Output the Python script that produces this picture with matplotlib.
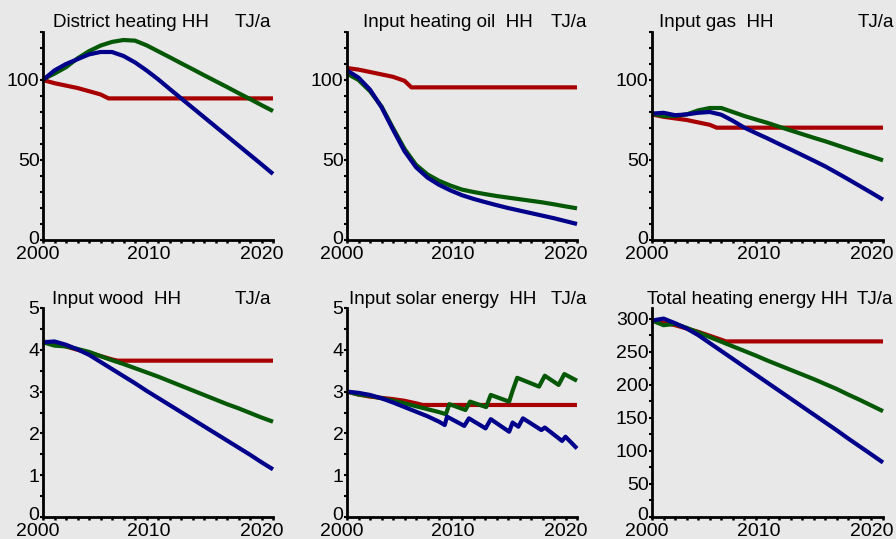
import matplotlib
matplotlib.use("Agg")
import matplotlib.pyplot as plt
import matplotlib.transforms as mtransforms
import numpy as np

# ─── data ───────────────────────────────────────────────────────────────────
YEARS = list(range(2000, 2021))

# District heating HH
DH_RED_X = [2000, 2001, 2002, 2003, 2004, 2005, 2005.7, 2020]
DH_RED   = [100, 98, 96.5, 95, 93, 91, 88.5, 88.5]
DH_GREEN = [100.5, 104, 108, 113.5, 118, 121.5, 123.8, 125, 124.6, 121.7, 118,
            114.3, 110.5, 106.8, 103, 99.3, 95.6, 91.8, 88.1, 84.3, 80.6]
DH_BLUE  = [100, 106, 110, 113, 116, 117.5, 117.5, 115, 111, 106, 100.5,
            94.5, 88.6, 82.7, 76.8, 70.9, 65, 59.1, 53.2, 47.3, 41.3]

# Input heating oil HH
HO_RED_X = [2000, 2001, 2002, 2003, 2004, 2005, 2005.6, 2020]
HO_RED   = [107.5, 106.5, 105, 103.5, 102, 99.5, 95.4, 95.4]
HO_GREEN = [104, 100, 93, 83.5, 70, 57, 47, 41, 37, 34, 31.5,
            30, 28.7, 27.5, 26.5, 25.5, 24.5, 23.5, 22.3, 21, 19.8]
HO_BLUE  = [106, 101.5, 94, 83, 69, 55.5, 45.5, 39, 34.5, 31, 28,
            25.7, 23.7, 21.8, 20, 18.4, 16.8, 15.2, 13.6, 11.8, 10]

# Input gas HH
GAS_RED_X = [2000, 2001, 2002, 2003, 2004, 2005, 2005.6, 2020]
GAS_RED   = [78.5, 77, 76, 75, 73.5, 72, 70.2, 70.2]
GAS_GREEN = [79, 77.5, 77.5, 78.5, 81, 82.5, 82.5, 80, 77.5, 75.3, 73.2,
             70.8, 68.5, 66.2, 63.9, 61.7, 59.3, 56.9, 54.5, 52.2, 49.8]
GAS_BLUE  = [79, 79.5, 78, 78.5, 79.5, 80, 78.3, 74.5, 70.2, 66.8, 63.5,
             60, 56.6, 53.1, 49.6, 46, 42, 37.9, 33.7, 29.5, 25.2]

# Input wood HH
WOOD_RED_X = [2000, 2001, 2002, 2003, 2004, 2005, 2006, 2006.5, 2020]
WOOD_RED   = [4.2, 4.15, 4.08, 4.0, 3.93, 3.85, 3.77, 3.74, 3.74]
WOOD_GREEN = [4.18, 4.1, 4.08, 4.02, 3.95, 3.85, 3.75, 3.66, 3.56, 3.46, 3.36,
              3.25, 3.14, 3.03, 2.92, 2.81, 2.7, 2.6, 2.49, 2.38, 2.28]
WOOD_BLUE  = [4.18, 4.2, 4.12, 4.01, 3.88, 3.71, 3.54, 3.37, 3.2, 3.02, 2.85,
              2.68, 2.51, 2.34, 2.17, 2.0, 1.83, 1.66, 1.49, 1.31, 1.14]

# Input solar energy HH (saw-tooth series keep their own time points)
SOL_RED_X   = [2000, 2001, 2002, 2003, 2004, 2005, 2006, 2006.6, 2020]
SOL_RED     = [3.0, 2.93, 2.88, 2.85, 2.82, 2.78, 2.72, 2.68, 2.68]
SOL_GREEN_X = [2000, 2001, 2002, 2003, 2004, 2005, 2006, 2007, 2008, 2008.6,
               2008.9, 2010.3, 2010.7, 2012.1, 2012.5, 2014.1, 2014.4, 2014.8,
               2016.7, 2017.2, 2018.4, 2018.9, 2020]
SOL_GREEN   = [3.0, 2.93, 2.9, 2.84, 2.78, 2.72, 2.65, 2.58, 2.51, 2.46,
               2.7, 2.56, 2.76, 2.63, 2.92, 2.76, 3.02, 3.33,
               3.12, 3.38, 3.16, 3.42, 3.26]
SOL_BLUE_X  = [2000, 2001, 2002, 2003, 2004, 2005, 2006, 2007, 2008, 2008.5,
               2008.7, 2010.2, 2010.6, 2012.05, 2012.5, 2014.1, 2014.4, 2014.9,
               2015.3, 2016.9, 2017.2, 2018.7, 2019.0, 2020]
SOL_BLUE    = [3.0, 2.97, 2.92, 2.84, 2.74, 2.63, 2.52, 2.41, 2.28, 2.2,
               2.4, 2.18, 2.36, 2.12, 2.34, 2.04, 2.26, 2.16,
               2.36, 2.08, 2.14, 1.82, 1.92, 1.64]

# Total heating energy HH
TOT_RED_X = [2000, 2001, 2002, 2003, 2004, 2005, 2006, 2006.4, 2020]
TOT_RED   = [298, 294, 290, 285, 280, 274, 268, 265.5, 265.5]
TOT_GREEN = [297, 290, 292, 286, 279, 272, 265, 258, 251, 244, 236.5,
             229.5, 222.5, 215.5, 208.5, 201, 193.5, 185, 177, 168.5, 160]
TOT_BLUE  = [297, 300, 293, 285, 275, 263, 251, 239, 227, 215, 203,
             191, 179, 167, 155, 143, 131, 118.5, 106.5, 94.5, 82.4]

TITLES = ["District heating HH", "Input heating oil  HH", "Input gas  HH",
          "Input wood  HH", "Input solar energy  HH", "Total heating energy HH"]
UNITS  = "TJ/a"

# ─── style / layout ─────────────────────────────────────────────────────────
W, H   = 896, 539
BG     = "#e8e8e8"
RED    = "#a80000"
GREEN  = "#055805"
BLUE   = "#00008a"
LW     = 3.0
FONT   = "Liberation Sans"

# axes boxes in pixels: (left, top, right, bottom)
BOXES = [(43, 32, 273, 240), (347, 32, 577, 240), (652, 32, 883, 240),
         (43, 308, 273, 517), (347, 308, 577, 517), (652, 308, 883, 517)]
# title left offset / units right offset from axes edges (pixels)
TITLE_DX = [10, 16, 7, 9, 2, -5]
UNITS_DX = [-2, 10, 11, -2, 10, 10]
# (ymax, label step, tick step)
YSCALES = [(130, 50, 10), (130, 50, 10), (130, 50, 10),
           (5, 1, 0.5), (5, 1, 0.5), (316, 50, 25)]
XLABEL_DX = [-5, -9, -11]

plt.rcParams["font.family"] = [FONT, "DejaVu Sans"]

fig = plt.figure(figsize=(W / 100, H / 100), dpi=100, facecolor=BG)

series = [
    ((DH_RED_X, DH_RED), (YEARS, DH_GREEN), (YEARS, DH_BLUE)),
    ((HO_RED_X, HO_RED), (YEARS, HO_GREEN), (YEARS, HO_BLUE)),
    ((GAS_RED_X, GAS_RED), (YEARS, GAS_GREEN), (YEARS, GAS_BLUE)),
    ((WOOD_RED_X, WOOD_RED), (YEARS, WOOD_GREEN), (YEARS, WOOD_BLUE)),
    ((SOL_RED_X, SOL_RED), (SOL_GREEN_X, SOL_GREEN), (SOL_BLUE_X, SOL_BLUE)),
    ((TOT_RED_X, TOT_RED), (YEARS, TOT_GREEN), (YEARS, TOT_BLUE)),
]

def shift(dx, dy):
    return mtransforms.ScaledTranslation(dx / 100, dy / 100, fig.dpi_scale_trans)

for i, (box, (red, green, blue)) in enumerate(zip(BOXES, series)):
    l, t, r, b = box
    ax = fig.add_axes([l / W, 1 - b / H, (r - l) / W, (b - t) / H])
    ax.set_facecolor(BG)

    for (xs, ys), c in zip((red, green, blue), (RED, GREEN, BLUE)):
        ax.plot(xs, ys, color=c, lw=LW, solid_capstyle="butt", clip_on=False)

    ymax, lstep, tstep = YSCALES[i]
    ax.set_xlim(2000, 2020)
    ax.set_ylim(0, ymax)

    ax.set_xticks([2000, 2010, 2020])
    ax.set_xticks(range(2000, 2021), minor=True)
    ax.set_yticks(np.arange(0, ymax + 0.01, lstep))
    ax.set_yticks(np.arange(0, ymax + 0.01, tstep), minor=True)
    ax.set_yticklabels([f"{v:g}" for v in np.arange(0, ymax + 0.01, lstep)])

    for s in ("top", "right"):
        ax.spines[s].set_visible(False)
    for s in ("left", "bottom"):
        ax.spines[s].set_linewidth(2.0)
        ax.spines[s].set_color("black")

    ax.tick_params(axis="y", which="both", direction="out", length=2.5,
                   width=1.5, pad=0, labelsize=14)
    ax.tick_params(axis="x", which="both", direction="out", length=1.8,
                   width=1.8, pad=2.0, labelsize=14)

    for lab, dx in zip(ax.get_xticklabels(), XLABEL_DX):
        lab.set_transform(lab.get_transform() + shift(dx, -1))
    # lift the "0" label a little so it sits above the year label
    zero = ax.get_yticklabels()[0]
    zero.set_transform(zero.get_transform() + shift(0, 3))

    # title and units
    ybase = 1 - (t - 4.5) / H
    fig.text((l + TITLE_DX[i]) / W, ybase, TITLES[i], fontsize=13.5,
             ha="left", va="baseline")
    fig.text((r + UNITS_DX[i]) / W, ybase, UNITS, fontsize=13.5,
             ha="right", va="baseline")

fig.savefig("out.png", dpi=100, facecolor=BG)
